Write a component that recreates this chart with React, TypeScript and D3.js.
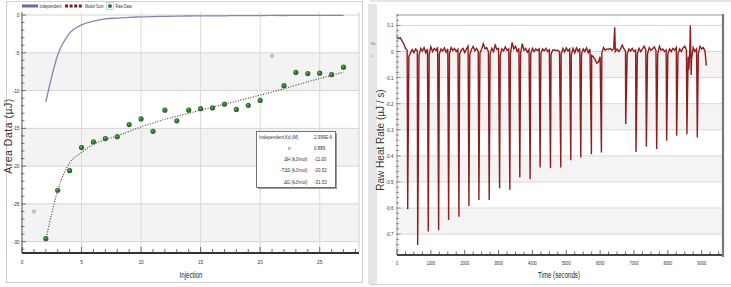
import React from 'react';
import * as d3 from 'd3';

// ---------- Left panel data (Injection vs Area) ----------
const injections = [1, 2, 3, 4, 5, 6, 7, 8, 9, 10, 11, 12, 13, 14, 15, 16, 17, 18, 19, 20, 21, 22, 23, 24, 25, 26, 27];
const rawData = [-26.0, -29.6, -23.2, -20.6, -17.55, -16.8, -16.35, -16.1, -14.5, -13.75, -15.4, -12.6, -14.0, -12.6, -12.4, -12.3, -11.8, -12.5, -11.95, -11.3, -5.4, -9.35, -7.6, -7.75, -7.7, -7.9, -6.9];
const excludedInjections = [1, 21];
const fitInjections = [2, 3, 4, 5, 6, 7, 8, 9, 10, 11, 12, 13, 14, 15, 16, 17, 18, 19, 20, 21, 22, 23, 24, 25, 26, 27];
const modelSum = [-29.8, -23.2, -19.6, -18.2, -17.1, -16.5, -16.0, -15.4, -14.8, -14.3, -13.8, -13.4, -13.0, -12.6, -12.2, -11.8, -11.4, -11.0, -10.6, -10.2, -9.75, -9.3, -8.85, -8.4, -8.0, -7.55];
const independent = [-11.5, -5.3, -2.4, -1.3, -0.8, -0.5, -0.4, -0.3, -0.25, -0.2, -0.18, -0.15, -0.13, -0.12, -0.1, -0.1, -0.08, -0.08, -0.07, -0.06, -0.06, -0.05, -0.05, -0.05, -0.04, -0.04];
const leftXTicks = [0, 5, 10, 15, 20, 25];
const leftYTicks = [0, -5, -10, -15, -20, -25, -30];
const legendLabels = ['Independent', 'Model Sum', 'Raw Data'];
const statLabels = ['Independent Kd (M)', 'n', 'ΔH (kJ/mol)', '-TΔS (kJ/mol)', 'ΔG (kJ/mol)'];
const statValues = ['2.999E-6', '0.889', '-11.00', '-20.52', '-31.53'];

// ---------- Right panel data (Time vs Raw Heat Rate) ----------
const spikeTimes = [316, 611, 923, 1230, 1525, 1829, 2124, 2419, 2723, 3030, 3333, 3628, 3932, 4227, 4534, 4838, 5133, 5428, 5743, 6038, 6755, 7059, 7366, 7670, 7965, 8260, 8563, 8870];
const spikeDepths = [-0.605, -0.742, -0.69, -0.685, -0.646, -0.633, -0.592, -0.569, -0.569, -0.524, -0.53, -0.483, -0.49, -0.445, -0.447, -0.445, -0.417, -0.406, -0.394, -0.387, -0.278, -0.385, -0.365, -0.374, -0.342, -0.323, -0.317, -0.33];
const artifactTimes = [6431, 8620, 8664, 8690];
const artifactValues = [0.093, -0.07, 0.1, -0.09];
const baselineStep = 50;
const baseline = [
  0.055, 0.05, 0.052, 0.04, 0.03, 0.012, 0.005,
  -0.02, -0.005, 0.008, -0.004, 0.01, 0.003,
  -0.015, 0.012, 0.002, 0.015, -0.005, 0.01,
  -0.012, 0.018, 0.0, 0.012, 0.004, 0.016,
  -0.01, 0.01, 0.002, 0.014, -0.003, 0.01,
  -0.008, 0.015, 0.004, 0.012, 0.0, 0.008,
  -0.01, 0.006, 0.012, -0.004, 0.01, 0.02,
  -0.012, 0.008, 0.02, 0.003, 0.012, 0.0,
  -0.006, 0.01, 0.03, 0.01, 0.015, 0.0,
  -0.01, 0.012, 0.0, 0.025, 0.008, 0.012,
  -0.015, 0.01, 0.003, 0.018, 0.005, 0.01,
  -0.01, 0.035, 0.01, 0.02, 0.0, 0.012,
  -0.008, 0.03, 0.005, 0.012, -0.003, 0.008,
  -0.01, 0.012, 0.0, 0.01, 0.004, 0.01,
  -0.008, 0.01, 0.003, 0.012, 0.0, 0.006,
  -0.01, 0.006, 0.006, 0.004, 0.005, 0.0,
  -0.01, 0.012, -0.002, 0.014, 0.002, 0.01,
  -0.012, 0.012, -0.005, 0.014, 0.0, 0.012,
  -0.01, 0.01, 0.0, 0.014, -0.005, 0.01,
  -0.015, -0.02, -0.03, -0.045, -0.04, -0.02,
  -0.005, 0.015, 0.005, 0.01, 0.008, 0.012, 0.005, 0.01,
  0.0, 0.01, 0.0, 0.008, 0.025, 0.012,
  0.0, -0.01, 0.01, 0.002, 0.012, 0.0, 0.005,
  -0.01, 0.012, 0.0, 0.01, 0.02, 0.005,
  -0.01, 0.015, 0.005, 0.01, 0.018, 0.004,
  -0.012, 0.02, 0.005, 0.01, 0.0, 0.006,
  -0.01, 0.01, 0.0, 0.012, 0.005, 0.015,
  -0.01, 0.01, 0.0, 0.014, 0.02, 0.005,
  -0.02, 0.01, -0.03, 0.015, 0.0, 0.01,
  -0.01, 0.02, 0.01, 0.015, 0.0,
];
const traceEndTime = 9136;
const traceEndValue = -0.054;
const rightXTicks = [0, 1000, 2000, 3000, 4000, 5000, 6000, 7000, 8000, 9000];
const rightYTicks = [0.1, 0, -0.1, -0.2, -0.3, -0.4, -0.5, -0.6, -0.7];

const SANS = '"Liberation Sans", Arial, sans-serif';

type NTProps = {
  x: number; y: number; size: number; sx?: number; anchor?: 'start' | 'middle' | 'end';
  fill?: string; children: React.ReactNode;
};
function NText({ x, y, size, sx = 0.8, anchor = 'start', fill = '#333', children }: NTProps) {
  return (
    <text transform={`translate(${x},${y}) scale(${sx},1)`} textAnchor={anchor} fontFamily={SANS} fontSize={size} fill={fill}>
      {children}
    </text>
  );
}

export default function App() {
  // scales
  const lx = d3.scaleLinear().domain([0, 28.3]).range([22, 359]);
  const ly = d3.scaleLinear().domain([-31.5, 0.4]).range([253, 12]);
  const rx = d3.scaleLinear().domain([0, 9600]).range([397, 722]);
  const ry = d3.scaleLinear().domain([-0.78, 0.14]).range([255, 15]);

  const modelLine = d3.line<number>()
    .x((_, i) => lx(fitInjections[i]))
    .y((d) => ly(d))
    .curve(d3.curveMonotoneX);
  const indepLine = d3.line<number>()
    .x((_, i) => lx(fitInjections[i]))
    .y((d) => ly(d))
    .curve(d3.curveMonotoneX);

  type P = { t: number; v: number };
  const tracePts: P[] = [];
  baseline.forEach((v, i) => tracePts.push({ t: i * baselineStep, v }));
  spikeTimes.forEach((t, i) => tracePts.push({ t, v: spikeDepths[i] }));
  artifactTimes.forEach((t, i) => tracePts.push({ t, v: artifactValues[i] }));
  tracePts.push({ t: traceEndTime, v: traceEndValue });
  tracePts.sort((a, b) => a.t - b.t);
  const traceLine = d3.line<P>().x((d) => rx(d.t)).y((d) => ry(d.v));

  const leftMinorX = d3.range(0, 29, 1);
  const leftMinorY = d3.range(0, -32, -1);
  const rightMinorX = d3.range(0, 9600, 250);
  const rightMinorY = d3.range(0.14, -0.78, -0.02).map((v) => Math.round(v * 100) / 100);

  const leftBands = [-5, -15, -25];
  const rightBands = [0, -0.2, -0.4, -0.6];

  const fmtR = (v: number) => (v === 0 ? '0' : String(Math.round(v * 10) / 10));

  return (
    <svg width={731} height={287} style={{ position: 'absolute', left: 0, top: 0, background: '#fff' }}>
      {/* ===== LEFT PANEL ===== */}
      <rect x={6.5} y={1.5} width={356} height={281} fill="#fff" stroke="#cfcfcf" />
      {leftBands.map((b) => (
        <rect key={b} x={lx(0)} y={ly(b)} width={lx(28.3) - lx(0)} height={ly(b - 5) - ly(b)} fill="#f3f3f3" />
      ))}
      {leftYTicks.map((t) => (
        <line key={'lgy' + t} x1={lx(0)} x2={lx(28.3)} y1={ly(t)} y2={ly(t)} stroke="#d4d4d4" strokeWidth={1} />
      ))}
      {leftXTicks.filter((t) => t > 0).map((t) => (
        <line key={'lgx' + t} x1={lx(t)} x2={lx(t)} y1={ly(0.4)} y2={ly(-31.5)} stroke="#dadada" strokeWidth={1} />
      ))}
      <line x1={lx(28.3)} x2={lx(28.3)} y1={ly(0.4)} y2={ly(-31.5)} stroke="#cfcfcf" />

      {/* legend */}
      <line x1={22} x2={38} y1={6} y2={6} stroke="#6a68aa" strokeWidth={3} />
      <NText x={39.5} y={8} size={5}>{legendLabels[0]}</NText>
      <line x1={65} x2={82} y1={6} y2={6} stroke="#7a1c1c" strokeWidth={3} strokeDasharray="3,1.6" />
      <NText x={85} y={8} size={4.6}>{legendLabels[1]}</NText>
      <rect x={106.5} y={2.5} width={7} height={7} fill="#fff" stroke="#bbb" strokeWidth={0.6} />
      <circle cx={110} cy={6} r={2} fill="#2f7a2f" />
      <NText x={115.5} y={8} size={4.6}>{legendLabels[2]}</NText>

      {/* independent curve */}
      <path d={indepLine(independent) || ''} fill="none" stroke="#8684b4" strokeWidth={1.3} />
      {/* model sum dotted */}
      <path d={modelLine(modelSum) || ''} fill="none" stroke="#5a3030" strokeWidth={1.1} strokeDasharray="1,1.6" />

      {/* raw data points */}
      {injections.map((inj, i) => {
        const ex = excludedInjections.includes(inj);
        return ex ? (
          <circle key={'p' + inj} cx={lx(inj)} cy={ly(rawData[i])} r={1.7} fill="#c8c8c8" stroke="#9a9a9a" strokeWidth={0.5} />
        ) : (
          <g key={'p' + inj}>
            <circle cx={lx(inj)} cy={ly(rawData[i])} r={2.6} fill="#2e6e2e" />
            <circle cx={lx(inj) - 0.5} cy={ly(rawData[i]) - 0.6} r={1.1} fill="#5fa55f" />
          </g>
        );
      })}

      {/* stats box */}
      <rect x={258} y={133} width={79} height={56} fill="#9a9a9a" />
      <rect x={256.5} y={131.5} width={79} height={56} fill="#fff" stroke="#555" strokeWidth={0.8} />
      {statLabels.map((s, i) => (
        <NText key={'sl' + i} x={i === 0 ? 259 : i === 1 ? 288 : 307.5} y={138.5 + i * 11.3}
          anchor={i === 0 || i === 1 ? 'start' : 'end'} size={5.6}>{s}</NText>
      ))}
      {statValues.map((s, i) => (
        <NText key={'sv' + i} x={314} y={138.5 + i * 11.3} size={5.6}>{s}</NText>
      ))}

      {/* left axes */}
      <line x1={lx(0)} x2={lx(0)} y1={ly(0.4)} y2={ly(-31.5)} stroke="#555" strokeWidth={1} />
      {leftMinorY.map((t) => (
        <line key={'lmy' + t} x1={lx(0) - 1} x2={lx(0) + (t % 5 === 0 ? 4 : 2.5)} y1={ly(t)} y2={ly(t)} stroke="#555" strokeWidth={0.8} />
      ))}
      {leftYTicks.map((t) => (
        <NText key={'lyl' + t} x={19.5} y={ly(t) + 2} anchor="end" size={6}>{t}</NText>
      ))}
      <line x1={lx(0)} x2={lx(28.3)} y1={253} y2={253} stroke="#333" strokeWidth={1.8} />
      {leftMinorX.map((t) => (
        <line key={'lmx' + t} x1={lx(t)} x2={lx(t)} y1={253} y2={253 - (t % 5 === 0 ? 6 : 4)} stroke="#444" strokeWidth={0.8} />
      ))}
      {leftXTicks.map((t) => (
        <NText key={'lxl' + t} x={lx(t)} y={264} anchor="middle" size={6}>{t}</NText>
      ))}
      <NText x={191} y={278} anchor="middle" size={9} sx={0.68} fill="#222">Injection</NText>
      <text transform="translate(12,136) rotate(-90)" textAnchor="middle" fontFamily={SANS} fontSize={10.5} letterSpacing={0.5} fill="#333">Area Data (µJ)</text>

      {/* ===== RIGHT PANEL ===== */}
      <line x1={370} x2={731} y1={1} y2={1} stroke="#dfe6ee" strokeWidth={2} />
      <rect x={368} y={4} width={9} height={280} fill="#e6e6e6" />
      <NText x={371} y={45} size={4} fill="#777">Rw</NText>
      <NText x={372} y={57} size={4} fill="#777">s</NText>
      <line x1={370} x2={731} y1={284.5} y2={284.5} stroke="#cdd3da" strokeWidth={1} />

      {rightBands.map((b) => (
        <rect key={'rb' + b} x={rx(0)} y={ry(b)} width={rx(9600) - rx(0)} height={ry(b - 0.1) - ry(b)} fill="#f4f4f4" />
      ))}
      {rightYTicks.map((t) => (
        <line key={'rgy' + t} x1={rx(0)} x2={rx(9600)} y1={ry(t)} y2={ry(t)} stroke="#d8d8d8" strokeWidth={1} />
      ))}
      <line x1={rx(0)} x2={rx(9600)} y1={15} y2={15} stroke="#999" strokeWidth={1} />
      <line x1={723} x2={723} y1={14} y2={257} stroke="#777" strokeWidth={2.2} />

      <path d={traceLine(tracePts) || ''} fill="none" stroke="#8e1d1d" strokeWidth={1.4} strokeLinejoin="miter" />

      {/* right axes */}
      <line x1={rx(0)} x2={rx(0)} y1={15} y2={255} stroke="#888" strokeWidth={0.8} />
      {rightMinorY.map((t, i) => (
        <line key={'rmy' + i} x1={rx(0) - 1} x2={rx(0) + (Math.abs(Math.round(t * 100)) % 10 === 0 ? 3.5 : 2)} y1={ry(t)} y2={ry(t)} stroke="#666" strokeWidth={0.7} />
      ))}
      {rightYTicks.map((t) => (
        <NText key={'ryl' + t} x={393.5} y={ry(t) + 2} anchor="end" size={6} sx={0.75}>{fmtR(t)}</NText>
      ))}
      <line x1={rx(0)} x2={rx(9600)} y1={255} y2={255} stroke="#444" strokeWidth={2} />
      {rightMinorX.map((t) => (
        <line key={'rmx' + t} x1={rx(t)} x2={rx(t)} y1={255} y2={255 - (t % 1000 === 0 ? 5 : 3.5)} stroke="#444" strokeWidth={0.8} />
      ))}
      {rightXTicks.map((t) => (
        <NText key={'rxl' + t} x={rx(t)} y={265} anchor="middle" size={5.5} sx={0.72}>{t}</NText>
      ))}
      <NText x={559} y={278} anchor="middle" size={9} sx={0.68} fill="#222">Time (seconds)</NText>
      <text transform="translate(384,140) rotate(-90)" textAnchor="middle" fontFamily={SANS} fontSize={10} fill="#333">Raw Heat Rate (µJ / s)</text>
    </svg>
  );
}
